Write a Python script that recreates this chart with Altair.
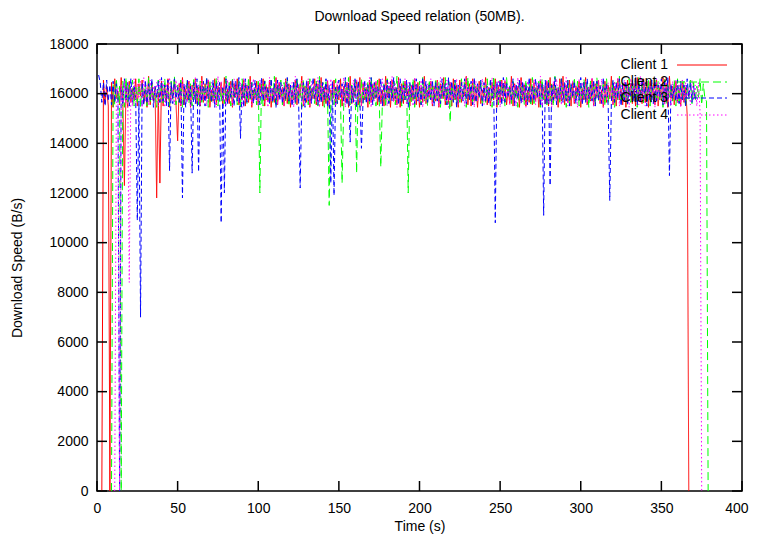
import altair as alt
import pandas as pd

# ---------------- texts / axes ----------------
title_text = "Download Speed relation (50MB)."
x_title = "Time (s)"
y_title = "Download Speed (B/s)"
x_ticks = [0, 50, 100, 150, 200, 250, 300, 350, 400]
y_ticks = [0, 2000, 4000, 6000, 8000, 10000, 12000, 14000, 16000, 18000]

series_names = ["Client 1", "Client 2", "Client 3", "Client 4"]

# ---------------- data (one sample per second) ----------------
client1_start = 3
client1_speed = [
    0, 16550, 15600, 16300, 15500, 0, 16450, 15450, 16600, 15800,
    16100, 15550, 16650, 15700, 12300, 16350, 15450, 16500, 15650, 16200,
    15750, 16600, 15500, 16400, 15900, 16550, 15600, 16150, 15450, 16700,
    15550, 16450, 15700, 16250, 11800, 16050, 12400, 16500, 15500, 16350,
    15650, 16600, 15450, 16300, 15850, 16550, 15600, 14100, 16400, 15500,
    16650, 15550, 16200, 15750, 16500, 15450, 16350, 15900, 16600, 15600,
    16250, 15500, 16700, 15650, 16400, 15800, 16550, 15450, 16150, 15700,
    16600, 15550, 16300, 15950, 16450, 15500, 16650, 15700, 16200, 15600,
    16500, 15450, 16400, 15850, 16600, 15550, 16250, 15750, 16550, 15500,
    16350, 15650, 16700, 15450, 16150, 15800, 16500, 15550, 16400, 15900,
    16600, 15500, 16300, 15700, 16550, 15450, 16200, 15650, 16650, 15550,
    16450, 15850, 16250, 15500, 16600, 15600, 16400, 15450, 16150, 15750,
    16550, 15550, 16350, 15900, 16700, 15500, 16300, 15650, 16500, 15450,
    16200, 15800, 16600, 15550, 16400, 15700, 16650, 15500, 16250, 15600,
    16500, 15450, 16150, 15850, 16550, 15550, 16350, 15750, 16600, 15500,
    16300, 15650, 16450, 15450, 16700, 15600, 16200, 15900, 16500, 15550,
    16650, 15500, 16400, 15750, 16250, 15450, 16550, 15650, 16350, 15800,
    16450, 15550, 16600, 15600, 16150, 15500, 16700, 15850, 16300, 15450,
    16550, 15700, 16250, 15550, 16650, 15450, 16400, 15600, 16500, 15900,
    16200, 15500, 16350, 15750, 16600, 15550, 16450, 15450, 16250, 15650,
    16700, 15600, 16150, 15850, 16500, 15500, 16300, 15700, 16550, 15450,
    16400, 15800, 16650, 15550, 16250, 15600, 16450, 15500, 16600, 15750,
    16350, 15450, 16550, 15650, 16200, 15900, 16700, 15550, 16400, 15500,
    16600, 15700, 16300, 15450, 16500, 15600, 16150, 15850, 16650, 15550,
    16250, 15500, 16450, 15750, 16600, 15450, 16350, 15650, 16550, 15800,
    16500, 15550, 16200, 15600, 16700, 15500, 16400, 15900, 16300, 15450,
    16650, 15750, 16350, 15500, 16150, 15650, 16600, 15550, 16450, 15700,
    16300, 15450, 16550, 15850, 16250, 15600, 16500, 15500, 16650, 15550,
    16400, 15800, 16200, 15450, 16600, 15700, 16700, 15550, 16350, 15650,
    16550, 15500, 16450, 15600, 16300, 15900, 16500, 15450, 16200, 15750,
    16650, 15550, 16250, 15700, 16600, 15500, 16400, 15850, 16550, 15600,
    16150, 15450, 16500, 15650, 16350, 15800, 16700, 15550, 16300, 15500,
    16600, 15750, 16200, 15550, 16450, 15450, 16550, 15900, 16400, 15600,
    16300, 15500, 16650, 15700, 16150, 15600, 16600, 15650, 16500, 15450,
    16450, 15850, 16350, 15550, 16550, 15500, 16250, 15750, 16650, 15600,
    16400, 15450, 16700, 15800, 16300, 15550, 16500, 15650, 16200, 15500,
    16450, 15650, 16250, 15150, 0,
]

client2_start = 9
client2_speed = [
    0, 16400, 15550, 16600, 15650, 16300, 0, 16500, 15450, 16650,
    15600, 16350, 15750, 16550, 15500, 16250, 15650, 16600, 15450, 16450,
    15700, 16300, 15500, 16650, 15600, 16400, 15800, 16200, 15450, 16550,
    15650, 16450, 15550, 16600, 15850, 16300, 15500, 16500, 15700, 16700,
    15550, 16350, 15650, 16550, 15450, 16250, 15800, 16600, 15600, 16400,
    15500, 16650, 15700, 16300, 15550, 16500, 15650, 16350, 15900, 16600,
    15450, 16550, 15600, 16400, 15750, 16650, 15500, 16300, 15700, 16200,
    15600, 16700, 15650, 16450, 15500, 16600, 15850, 16250, 15550, 16500,
    15450, 16600, 15750, 16350, 15600, 16650, 15700, 16450, 15800, 16300,
    15550, 16500, 12000, 16400, 15500, 16600, 15750, 16300, 15600, 16550,
    15650, 16700, 15450, 16350, 15850, 16550, 15550, 16450, 15700, 16600,
    15500, 16250, 15800, 16500, 15600, 16650, 15650, 16400, 15450, 16550,
    15700, 16300, 15550, 16600, 15800, 16200, 15600, 16500, 15500, 16700,
    15650, 16450, 15450, 16550, 15850, 11500, 15700, 16400, 15550, 16600,
    15600, 16300, 15800, 12400, 15500, 16500, 15650, 16650, 15550, 16350,
    15750, 16550, 12800, 16450, 15450, 16600, 15600, 16250, 15800, 16500,
    15550, 16650, 15700, 16400, 15500, 16550, 15850, 13050, 15750, 16450,
    15450, 16600, 15650, 16350, 15800, 16500, 15550, 16700, 15700, 16300,
    15500, 16550, 15750, 16450, 12000, 16400, 15600, 16600, 15450, 16250,
    15800, 16500, 15550, 16650, 15700, 16350, 15500, 16550, 15850, 16300,
    15600, 16600, 15750, 16450, 15450, 16400, 15800, 16650, 15550, 16500,
    14850, 16350, 15700, 16550, 15500, 16300, 15650, 16600, 15800, 16450,
    15450, 16650, 15750, 16400, 15550, 16500, 15700, 16250, 15850, 16550,
    15500, 16350, 15650, 16600, 15800, 16450, 15450, 16700, 15750, 16300,
    15550, 16550, 15700, 16400, 15500, 16650, 15850, 16350, 15600, 16500,
    15750, 16250, 15450, 16600, 15800, 16450, 15550, 16550, 15700, 16400,
    15500, 16650, 15600, 16300, 15850, 16500, 15450, 16600, 15750, 16350,
    15550, 16550, 15700, 16450, 15500, 16700, 15800, 16250, 15650, 16600,
    15750, 16400, 15450, 16550, 15600, 16350, 15850, 16650, 15700, 16500,
    15500, 16300, 15800, 16600, 15650, 16450, 15450, 16550, 15750, 16400,
    15550, 16650, 15700, 16350, 15850, 16500, 15500, 16600, 15650, 16250,
    15800, 16550, 15450, 16450, 15750, 16700, 15600, 16400, 15700, 16300,
    15500, 16600, 15650, 16500, 15850, 16350, 15450, 16650, 15750, 16450,
    15600, 16250, 15700, 16550, 15500, 16400, 15800, 16600, 15650, 16500,
    15750, 16350, 15450, 16650, 15600, 16450, 15850, 16300, 15700, 16550,
    15500, 16600, 15650, 16400, 15800, 16500, 15450, 16350, 15750, 16550,
    15600, 16450, 15700, 16300, 15850, 16600, 15550, 16400, 15800, 15700,
    0,
]

client3_start = 1
client3_speed = [
    16750, 16450, 15650, 16450, 15500, 16550, 15700, 16350, 15550, 16500,
    15650, 16400, 15800, 0, 16250, 15550, 16600, 15700, 16450, 15500,
    16600, 15650, 16350, 15800, 10900, 15700, 7000, 16450, 15550, 16550,
    15600, 16400, 15750, 16600, 15450, 16300, 15850, 16500, 15650, 16650,
    15700, 16350, 15500, 16550, 12900, 16450, 15600, 16600, 15800, 16250,
    15650, 16500, 11800, 16400, 15450, 16550, 15750, 16300, 12800, 16450,
    15600, 16600, 12850, 16350, 15700, 16500, 15500, 16650, 15800, 16250,
    15650, 16550, 15450, 16400, 15750, 16450, 10800, 16300, 12000, 16600,
    15600, 16350, 15850, 16550, 15500, 16500, 15700, 16650, 14200, 16400,
    15450, 16600, 15650, 16300, 15800, 16450, 15600, 16550, 15750, 16350,
    15550, 16650, 15700, 16500, 15850, 16250, 15600, 16600, 15650, 16400,
    15450, 16550, 15750, 16450, 15600, 16300, 15800, 16650, 15700, 16350,
    15500, 16500, 15650, 16600, 15850, 12200, 15750, 16450, 15450, 16550,
    15700, 16300, 15600, 16650, 15800, 16400, 15550, 16550, 15650, 16450,
    15750, 16600, 15450, 16350, 12400, 16500, 11900, 16250, 15600, 16550,
    15850, 16400, 15700, 16650, 15550, 16450, 14050, 16300, 15650, 16600,
    15450, 16500, 15800, 13800, 15750, 16550, 15600, 16350, 15700, 16650,
    15550, 16450, 15850, 16300, 15650, 16600, 15500, 16400, 15750, 16550,
    15600, 16500, 15700, 16650, 15800, 16250, 15550, 16600, 15650, 16350,
    15750, 16550, 15450, 16450, 15850, 16400, 15600, 16600, 15700, 16300,
    15550, 16650, 15800, 16500, 15650, 16350, 15750, 16550, 15500, 16450,
    15700, 16300, 15600, 16600, 15850, 16400, 15550, 16650, 15750, 16500,
    15650, 16550, 15450, 16350, 15800, 16450, 15700, 16600, 15600, 16250,
    15750, 16500, 15550, 16650, 15650, 16400, 15850, 16550, 15500, 16450,
    15700, 16300, 15600, 16600, 15800, 16350, 10800, 16500, 15750, 16550,
    15550, 16650, 15650, 16450, 15850, 16250, 15700, 16600, 15500, 16400,
    15800, 16550, 15600, 16500, 15750, 16350, 15550, 16650, 15650, 16300,
    15700, 16600, 15850, 16450, 15500, 16400, 11100, 16550, 15600, 16500,
    12300, 16350, 15750, 16650, 15550, 16250, 15800, 16600, 15650, 16450,
    15700, 16550, 15500, 16400, 15850, 16500, 15600, 16300, 15750, 16650,
    15550, 16450, 15650, 16600, 15800, 16350, 15700, 16550, 15500, 16500,
    15750, 16300, 15600, 16650, 15850, 16400, 15550, 11700, 15700, 16550,
    15650, 16450, 15800, 16600, 15500, 16350, 15750, 16500, 15600, 16250,
    15850, 16550, 15700, 16650, 15550, 16400, 15650, 16600, 15800, 16450,
    15500, 16300, 15750, 16550, 15600, 16500, 15700, 16350, 15850, 16600,
    15550, 16450, 15650, 16650, 12700, 16400, 15800, 16250, 15700, 16550,
    15600, 16500, 15750, 16350, 15500, 16600, 15850, 16450, 15650, 16300,
    15800, 15700,
]

client4_start = 11
client4_speed = [
    0, 15800, 16250, 0, 16350, 15550, 16550, 15650, 16450, 8400,
    16250, 15500, 16600, 15650, 16400, 15800, 16500, 15450, 16650, 15700,
    16350, 15550, 16550, 15750, 16300, 15850, 16450, 15500, 16600, 15650,
    16500, 15450, 16400, 15800, 16650, 15700, 16250, 15550, 16550, 15750,
    16450, 15500, 16600, 15850, 16350, 15650, 16500, 15450, 16300, 15800,
    16650, 15700, 16400, 15550, 16550, 15750, 16250, 15500, 16600, 15850,
    16450, 15650, 16350, 15450, 16700, 15800, 16500, 15700, 16300, 15550,
    16550, 15750, 16400, 15500, 16600, 15850, 16250, 15650, 16450, 15450,
    16650, 15700, 16350, 15800, 16500, 15550, 16600, 15750, 16300, 15500,
    16550, 15850, 16450, 15650, 16400, 15450, 16650, 15700, 16250, 15800,
    16600, 15550, 16500, 15750, 16350, 15500, 16550, 15850, 16300, 15650,
    16450, 15450, 16700, 15700, 16400, 15800, 16550, 15550, 16250, 15750,
    16600, 15500, 16500, 15850, 16350, 15650, 16650, 15450, 16450, 15700,
    16300, 15800, 16550, 15550, 16600, 15750, 16400, 15500, 16500, 15850,
    16250, 15650, 16650, 15450, 16450, 15700, 16350, 15800, 16550, 15550,
    16600, 15750, 16300, 15500, 16500, 15850, 16400, 15650, 16650, 15450,
    16450, 15700, 16550, 15800, 16250, 15550, 16600, 15750, 16350, 15500,
    16500, 15850, 16700, 15650, 16400, 15450, 16550, 15700, 16300, 15800,
    16600, 15550, 16450, 15750, 16350, 15500, 16650, 15850, 16250, 15650,
    16550, 15450, 16500, 15700, 16400, 15800, 16600, 15550, 16300, 15750,
    16450, 15500, 16650, 15850, 16350, 15650, 16550, 15450, 16500, 15700,
    16250, 15800, 16600, 15550, 16400, 15750, 16450, 15500, 16650, 15850,
    16300, 15650, 16550, 15450, 16500, 15700, 16350, 15800, 16600, 15550,
    16450, 15750, 16250, 15500, 16650, 15850, 16400, 15650, 16550, 15450,
    16500, 15700, 16600, 15800, 16300, 15550, 16450, 15750, 16350, 15500,
    16650, 15850, 16550, 15650, 16400, 15450, 16500, 15700, 16250, 15800,
    16600, 15550, 16450, 15750, 16700, 15500, 16350, 15850, 16550, 15650,
    16300, 15450, 16500, 15700, 16600, 15800, 16400, 15550, 16450, 15750,
    16650, 15500, 16250, 15850, 16550, 15650, 16350, 15450, 16600, 15700,
    16450, 15800, 16500, 15550, 16300, 15750, 16650, 15500, 16400, 15850,
    16550, 15650, 16600, 15450, 16350, 15700, 16450, 15800, 16250, 15550,
    16500, 15750, 16650, 15500, 16400, 15850, 16550, 15650, 16300, 15450,
    16600, 15700, 16450, 15800, 16350, 15550, 16700, 15750, 16500, 15500,
    16250, 15850, 16550, 15650, 16400, 15450, 16600, 15700, 16450, 15800,
    16350, 15550, 16650, 15750, 16300, 15500, 16500, 15850, 16550, 15650,
    16400, 15450, 16600, 15700, 16450, 15800, 16250, 15550, 16550, 15750,
    16350, 15500, 16450, 15250, 0,
]

# ---------------- styling ----------------
W, H = 645, 447
FONT = "Liberation Sans"
FS = 14
styles = [
    dict(color="#ff0000", dash=[1, 0]),
    dict(color="#00ff00", dash=[8, 4]),
    dict(color="#0000ff", dash=[5, 3]),
    dict(color="#ff00ff", dash=[1.5, 2.5]),
]

starts = [client1_start, client2_start, client3_start, client4_start]
speeds = [client1_speed, client2_speed, client3_speed, client4_speed]

x_enc = alt.X(
    "t:Q",
    title=x_title,
    scale=alt.Scale(domain=[0, 400], nice=False, zero=False),
    axis=alt.Axis(
        values=x_ticks, labelPadding=10, labelFlush=False,
        labelAlign={"condition": {"test": "datum.value >= 400", "value": "right"}, "value": "center"},
        labelOffset={"condition": {"test": "datum.value >= 400", "value": 6}, "value": 0},
        titleY=35, titleBaseline="middle", format="d",
    ),
)
y_enc = alt.Y(
    "v:Q",
    title=y_title,
    scale=alt.Scale(domain=[0, 18000], nice=False),
    axis=alt.Axis(values=y_ticks, labelPadding=9, labelFlush=False,
                  titleX=-80, titleY=H / 2, titleAngle=270,
                  titleBaseline="middle", format="d"),
)

layers = []
for name, st, sp, sty in zip(series_names, starts, speeds, styles):
    df = pd.DataFrame({"t": list(range(st, st + len(sp))), "v": sp, "name": name})
    layers.append(
        alt.Chart(df).mark_line(
            color=sty["color"], strokeWidth=1, strokeDash=sty["dash"],
            interpolate="linear",
        ).encode(x=x_enc, y=y_enc, order="t:Q")
    )

# inward ticks (gnuplot style, mirrored on all four sides)
xt_df = pd.DataFrame({"t": x_ticks})
yt_df = pd.DataFrame({"v": y_ticks})
TL = 10
tick_style = dict(color="black", strokeWidth=1.5)
layers += [
    alt.Chart(xt_df).mark_rule(**tick_style).encode(x=x_enc, y=alt.value(H), y2=alt.value(H - TL)),
    alt.Chart(xt_df).mark_rule(**tick_style).encode(x=x_enc, y=alt.value(0), y2=alt.value(TL)),
    alt.Chart(yt_df).mark_rule(**tick_style).encode(y=y_enc, x=alt.value(0), x2=alt.value(TL)),
    alt.Chart(yt_df).mark_rule(**tick_style).encode(y=y_enc, x=alt.value(W), x2=alt.value(W - TL)),
]

# key (labels left of the line samples, as gnuplot draws it)
leg_df = pd.DataFrame({"name": series_names})
row_y = [21, 38, 54, 71]
for i, (name, sty) in enumerate(zip(series_names, styles)):
    one = leg_df.iloc[[i]]
    layers.append(
        alt.Chart(one).mark_text(align="right", baseline="middle", font=FONT,
                                 fontSize=FS, color="black").encode(
            text="name:N", x=alt.value(571), y=alt.value(row_y[i]))
    )
    layers.append(
        alt.Chart(one).mark_rule(color=sty["color"], strokeWidth=1,
                                 strokeDash=sty["dash"]).encode(
            x=alt.value(580), x2=alt.value(630), y=alt.value(row_y[i]))
    )

chart = (
    alt.layer(*layers)
    .properties(
        width=W,
        height=H,
        title=alt.TitleParams(title_text, font=FONT, fontSize=FS, fontWeight="normal",
                              color="black", anchor="middle", offset=13),
        autosize=alt.AutoSizeParams(type="none"),
        padding={"left": 89, "top": 36, "right": 7, "bottom": 44},
    )
    .configure_view(stroke="black", strokeWidth=1.5)
    .configure_axis(domain=False, ticks=False, tickSize=0, grid=False,
                    labelFont=FONT, labelFontSize=FS, labelColor="black",
                    titleFont=FONT, titleFontSize=FS, titleFontWeight="normal",
                    titleColor="black")
)

chart.save("out.html", embed_options={"renderer": "svg", "actions": False})
